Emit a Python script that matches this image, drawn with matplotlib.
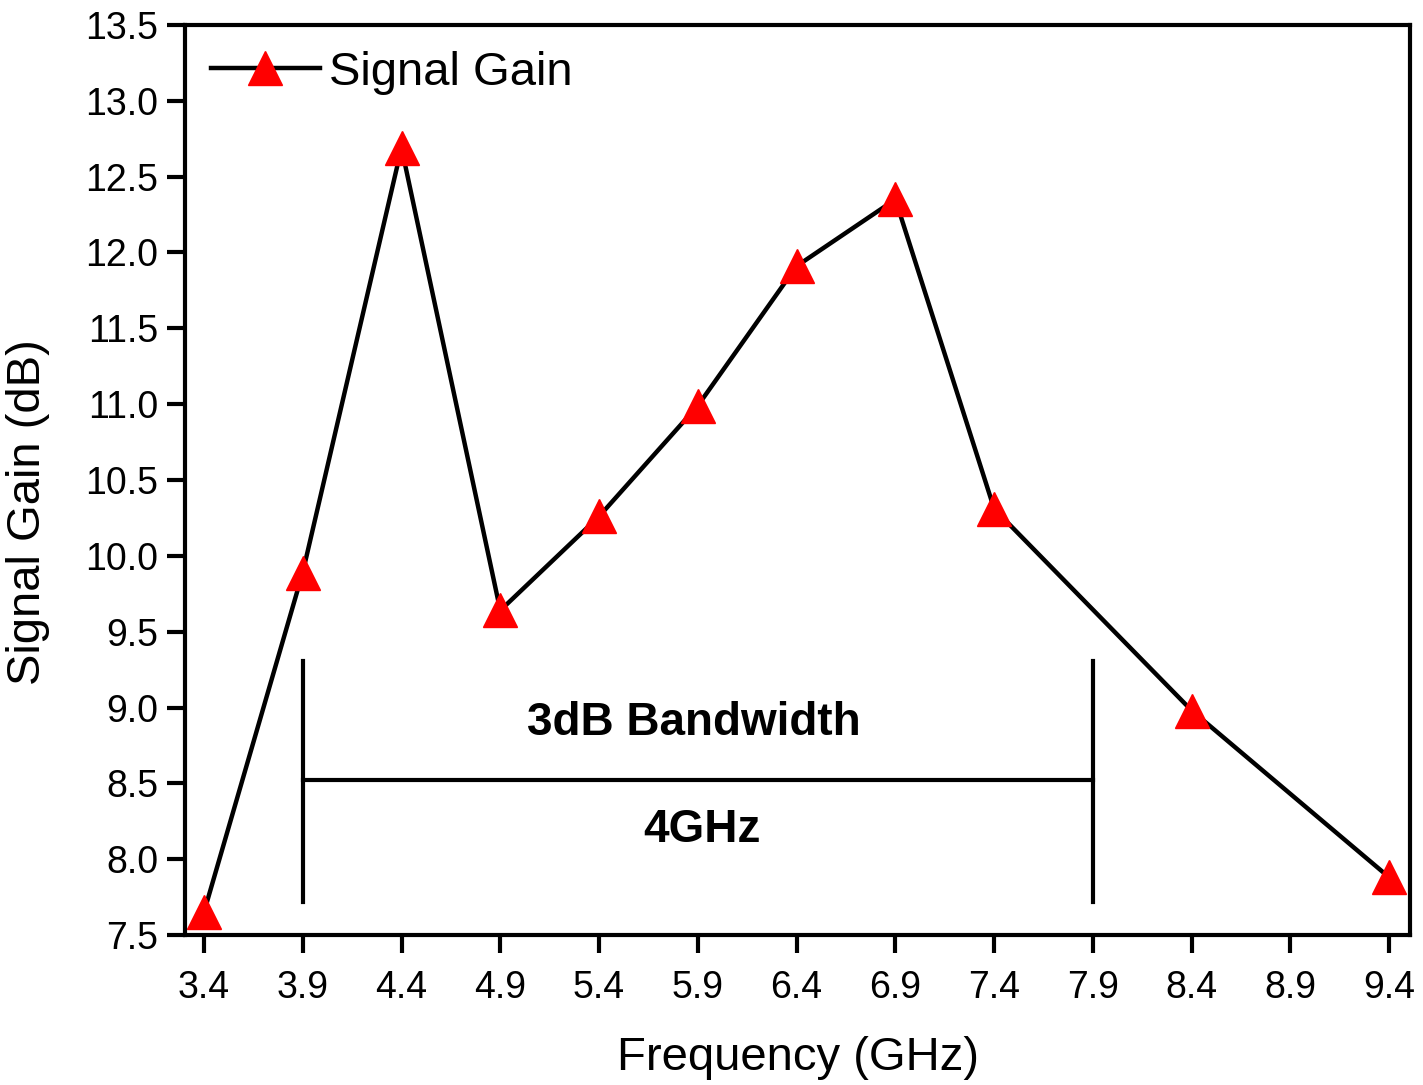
import numpy as np
import matplotlib
matplotlib.use("Agg")
from matplotlib import pyplot as plt

plt.rcParams['font.family'] = ['Liberation Sans', 'DejaVu Sans']

# data
freq = [3.4, 3.9, 4.4, 4.9, 5.4, 5.9, 6.4, 6.9, 7.4, 8.4, 9.4]
gain = [7.65, 9.89, 12.69, 9.64, 10.26, 10.99, 11.91, 12.35, 10.31, 8.98, 7.88]
x_ticks = [3.4, 3.9, 4.4, 4.9, 5.4, 5.9, 6.4, 6.9, 7.4, 7.9, 8.4, 8.9, 9.4]
y_ticks = [7.5, 8.0, 8.5, 9.0, 9.5, 10.0, 10.5, 11.0, 11.5, 12.0, 12.5, 13.0, 13.5]

# 3dB bandwidth marker
bw_start, bw_end = 3.9, 7.9
bw_level = 8.52
bw_bar_low, bw_bar_high = 7.72, 9.31

fig = plt.figure(figsize=(14.23, 10.85), dpi=100)
ax = fig.add_axes([0.130, 0.1382, 0.861, 0.8388])

ax.plot(freq, gain, color="black", linewidth=3.2, marker="^", markersize=24,
        markerfacecolor="red", markeredgecolor="red", label="Signal Gain")

# bandwidth bars
ax.plot([bw_start, bw_start], [bw_bar_low, bw_bar_high], color="black", linewidth=3)
ax.plot([bw_end, bw_end], [bw_bar_low, bw_bar_high], color="black", linewidth=3)
ax.plot([bw_start, bw_end], [bw_level, bw_level], color="black", linewidth=3)
ax.text(5.88, 8.9, "3dB Bandwidth", fontsize=33, fontweight="bold", ha="center", va="center")
ax.text(5.92, 8.19, "4GHz", fontsize=33, fontweight="bold", ha="center", va="center")

ax.set_xlim(3.304, 9.506)
ax.set_ylim(7.5, 13.5)
ax.set_xticks(x_ticks)
ax.set_xticklabels([f"{v:.1f}" for v in x_ticks])
ax.set_yticks(y_ticks)
ax.set_yticklabels([f"{v:.1f}" for v in y_ticks])
ax.tick_params(axis="both", direction="out", length=13, width=3, labelsize=27)
ax.tick_params(axis="x", pad=12)
ax.tick_params(axis="y", pad=6)
for s in ax.spines.values():
    s.set_linewidth(3)

ax.set_xlabel("Frequency (GHz)", fontsize=34, labelpad=22)
ax.set_ylabel("Signal Gain (dB)", fontsize=34)
ax.yaxis.set_label_coords(-0.110, 0.465)

ax.legend(loc="upper left", frameon=False, fontsize=34, handlelength=2.3,
          handletextpad=0.2, borderaxespad=0.15)

fig.savefig("out.png", dpi=100)
